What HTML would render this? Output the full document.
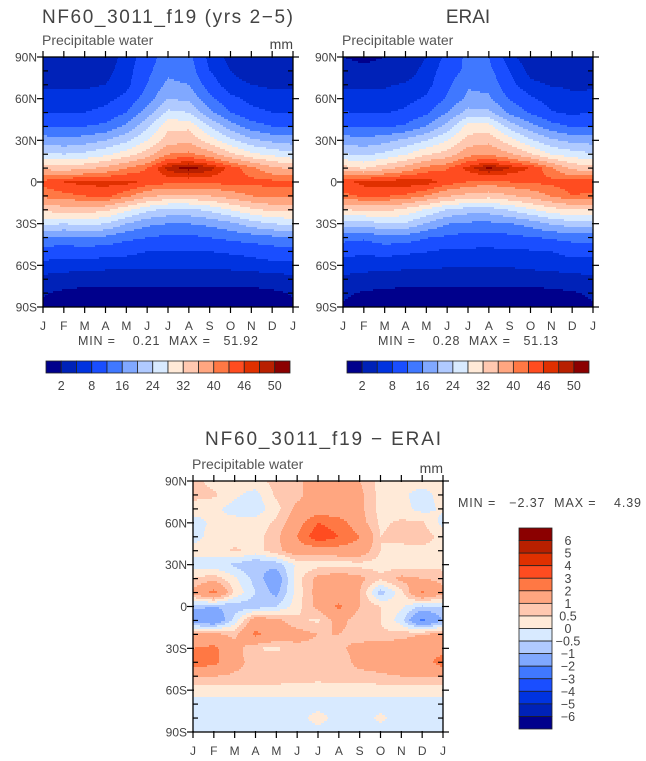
<!DOCTYPE html>
<html><head><meta charset="utf-8"><style>
html,body{margin:0;padding:0;background:#fff;}
svg{display:block;font-family:"Liberation Sans",sans-serif;}
text{fill:#444;}
.pre{white-space:pre;}
</style></head><body>
<svg id="fig" width="646" height="761" viewBox="0 0 646 761">
<text x="42" y="23" font-size="19" textLength="251">NF60_3011_f19 (yrs 2−5)</text>
<text x="468" y="23" font-size="19" text-anchor="middle">ERAI</text>
<text x="205" y="445" font-size="19" textLength="236">NF60_3011_f19 − ERAI</text>
<g id="p1"></g>
<g id="p2"></g>
<g id="p3"></g>
<g id="cb"></g>
</svg>
<script>
const months = ["J","F","M","A","M","J","J","A","S","O","N","D","J"];
const lats = [90,80,70,60,50,40,30,20,10,0,-10,-20,-30,-40,-50,-60,-70,-80,-90];
const latLabels = ["90N","60N","30N","0","30S","60S","90S"];
const latTicks = [90,60,30,0,-30,-60,-90];
const pwLevels = [2,5,8,12,16,20,24,28,32,36,40,43,46,48,50];
const pwLabels = ["2","8","16","24","32","40","46","50"];
const diffLevels = [-6,-5,-4,-3,-2,-1,-0.5,0,0.5,1,2,3,4,5,6];
const diffLabels = ["6","5","4","3","2","1","0.5","0","−0.5","−1","−2","−3","−4","−5","−6"];
const palette = ["#00008c","#0022b8","#0033e0","#1a4eff","#4078ff","#80a8ff","#b0caff","#d8eaff","#ffead8","#ffc8b0","#ffa680","#ff7844","#ff4c20","#e03000","#b82000","#8b0000"];
const modelPW = [
[3,3,3,3.5,6,10,14,13,7,4,3,3,3],
[3.5,3.5,3.5,4,6.5,11,15,14,8,5,3.5,3.5,3.5],
[4.5,4.5,4.5,5,7,12,17,16,10,6,5,4.5,4.5],
[6,6,6,7,9,14,20,19,13,9,7,6,6],
[8,8,8,9,12,18,25,24,17,12,9,8,8],
[12,12,12,13,17,23,31,31,24,18,14,12,12],
[18,17,18,20,23,28,34,35,30,25,21,19,18],
[25,24,25,27,30,34,40,41,38,33,29,27,25],
[35,34,35,37,40,43,49,51,49,45,41,37,35],
[44,46,47,47,47,45,44,44,44,44,44,44,44],
[41,42,43,44,41,37,35,35,36,38,40,41,41],
[33,34,34,33,29,25,23,23,25,28,31,33,33],
[25,24,25,24,20,17,16,16,17,19,22,24,25],
[16,15,16,15,13,12,11,11,12,13,14,15,16],
[10,9.5,10,9.5,9,8,8,8,8,8.5,9,10,10],
[7,6.5,6.5,6,6,5.5,5.5,5.5,5.5,6,6.5,7,7],
[4,3.5,3,3,3,3,3,3,3,3,3,3.5,4],
[2.2,1.5,1.2,1,1,1,1,1,1,1,1.2,1.5,2.2],
[1.5,1,1,0.8,0.5,0.5,0.5,0.5,0.5,0.5,1,1,1.5]];
const eraiPW = [
[2,1.5,2,3,5,9,13,12,6,3,2.5,2.5,2],
[3,2.5,3,3.5,6,10,13,13,8,4,3,3,3],
[4.3,4.4,4.7,5.3,6.8,11,15.5,15,9,5.8,4.8,4.7,4.3],
[6.2,6,5.8,6.8,8.5,12.5,17,16.5,11.7,8.6,6.4,5.4,6.2],
[8.2,7.8,7.8,8.7,11.2,16,21.5,21,15,11.5,8.3,7.2,8.2],
[11.8,11.8,11.4,12.7,16.2,21.5,29.7,29.5,22.5,17.5,13.7,11.7,11.8],
[18.2,17.3,18.6,21,23.8,27.9,33.7,34.8,29.7,24.7,20.8,18.7,18.2],
[24.5,23.2,24.9,27.7,31.5,33.7,38.8,39.5,36.8,32.4,27.8,26,24.5],
[33.8,31.7,34.6,37.5,41.2,42.8,47,50.5,48,45.8,40.7,34.9,33.8],
[44.8,47,47.5,47.8,47.5,44.7,42.8,41.8,43,43.5,43.9,44.6,44.8],
[42.3,43.5,43.3,42.5,39.8,36.4,34.6,33.7,35.4,37.5,40.3,43,42.3],
[31.7,32.8,33.2,30.8,27.5,23.7,22,22,24.3,27.4,30.3,32,31.7],
[23,21.8,23.7,23.5,19.6,16.2,15.2,15.1,15.8,17.5,20.5,22,23],
[13.5,12.7,14.8,14.2,12.2,11.3,10.2,10.3,10.8,11.7,12.5,13.5,13.5],
[9,8.5,9.1,8.6,8.1,7.2,7.3,7.2,7.2,7.6,8,9,9],
[6.8,6.3,6.3,5.8,5.8,5.3,5.3,5.3,5.3,5.8,6.3,6.8,6.8],
[4.2,3.7,3.2,3.2,3.2,3.2,3.2,3.2,3.2,3.2,3.2,3.7,4.2],
[2.4,1.7,1.4,1.2,1.2,1.2,1.2,1.2,1.2,1.1,1.4,1.7,2.4],
[1.7,1.2,1.2,1,0.7,0.7,0.7,0.7,0.7,0.7,1.2,1.2,1.7]];
const diffPW = [
[0.7,0.3,0.2,0.3,0.7,0.8,1.5,1.5,1,0.3,0.2,0.2,0.2],
[0.7,0.6,0.1,-0.2,0.6,0.8,1.5,1.2,1.2,0.3,0.1,-0.2,0.2],
[0.2,0.1,-0.2,-0.3,0.3,1.2,1.3,1.2,1.2,0.3,0.2,-0.2,0.1],
[-0.2,0.1,0.2,0.2,0.6,1.5,3,2.5,1.3,0.4,0.6,0.6,-0.2],
[-0.2,0.2,0.2,0.3,0.8,2,3.8,3,2,0.5,0.7,0.8,0.3],
[0.2,0.2,0.6,0.3,0.8,1.5,1.3,1.5,1.5,0.5,0.3,0.3,0.3],
[-0.2,-0.3,-0.6,-1,-0.8,0.1,0.3,0.2,0.3,0.3,0.2,0.3,0.3],
[0.5,0.8,0.1,-0.7,-1.5,0.3,1.2,1.5,1.2,0.6,1.2,1,0.8],
[1.2,2.3,0.4,-0.5,-1.2,0.2,1.3,1.2,1,-0.8,0.3,2.1,1.2],
[-0.8,-1,-0.8,-0.8,-0.5,0.3,1.2,2.2,1,0.5,0.1,-0.6,-0.5],
[-1.6,-1.8,-0.3,1.5,1.2,0.6,0.4,1.3,0.6,0.5,-0.3,-2.2,-1],
[1.3,1.2,0.8,2.2,1.5,1.3,1,1,0.7,0.6,0.7,1,1.2],
[2,2.2,1.3,0.5,0.4,0.8,0.8,0.9,1.2,1.5,1.5,2,1.5],
[2.5,2.3,1.2,0.8,0.8,0.7,0.8,0.7,1.2,1.3,1.5,1.5,2.5],
[1,1,0.9,0.9,0.9,0.8,0.7,0.8,0.8,0.9,1,1,1],
[0.2,0.2,0.2,0.2,0.2,0.2,0.2,0.2,0.2,0.2,0.2,0.2,0.2],
[-0.2,-0.2,-0.2,-0.2,-0.2,-0.2,-0.2,-0.2,-0.2,-0.2,-0.2,-0.2,-0.2],
[-0.2,-0.2,-0.2,-0.2,-0.2,-0.2,0.2,-0.2,-0.2,0.1,-0.2,-0.2,-0.2],
[-0.2,-0.2,-0.2,-0.2,-0.2,-0.2,-0.2,-0.2,-0.2,-0.2,-0.2,-0.2,-0.2]];

const NS="http://www.w3.org/2000/svg";
function mk(tag,attrs,parent){const e=document.createElementNS(NS,tag);for(const k in attrs)e.setAttribute(k,attrs[k]);parent.appendChild(e);return e;}
function levelOf(v,levels){let i=0;while(i<levels.length&&v>=levels[i])i++;return i;}
function sample(grid,fx,fy){
  const c0=Math.min(Math.floor(fx),11),r0=Math.min(Math.floor(fy),17);
  const tx=fx-c0,ty=fy-r0;
  const a=grid[r0][c0],b=grid[r0][c0+1],c=grid[r0+1][c0],d=grid[r0+1][c0+1];
  return (a*(1-tx)+b*tx)*(1-ty)+(c*(1-tx)+d*tx)*ty;
}
function drawPanel(g,grid,levels,X,Y,W,H,opts){
  const xOf=m=>X+m/12*W;
  const yOf=lat=>Y+(90-lat)/180*H;
  const field=mk('g',{'shape-rendering':'crispEdges'},g);
  
  
  const step=2;
  for(let py=0;py<H;py+=step){
    const hh=Math.min(step,H-py);
    const fy=(py+hh/2)/H*18;
    let runStart=0,runLev=-1;
    for(let px=0;px<=W;px++){
      let lev=-2;
      if(px<W){lev=levelOf(sample(grid,(px+0.5)/W*12,fy),levels);}
      if(lev!==runLev){
        if(runLev>=0){
          const r=mk('rect',{x:X+runStart,y:Y+py,width:px-runStart,height:hh,fill:palette[runLev]},field);
          
          
        }
        runStart=px;runLev=lev;
      }
    }
  }
  const frame=mk('rect',{x:X,y:Y,width:W,height:H,fill:'none',stroke:'#000','stroke-width':1.3},g);
  
  
  const ax=mk('g',{stroke:'#000','stroke-width':1.2},g);
  
  
  months.forEach((m,i)=>{
    const x=xOf(i);
    mk('line',{x1:x,y1:Y-6,x2:x,y2:Y+1},ax);
    mk('line',{x1:x,y1:Y+H-1,x2:x,y2:Y+H+6},ax);
    const t=mk('text',{x:x,y:Y+H+23,'font-size':12,'text-anchor':'middle',stroke:'none'},g);
    t.textContent=m;
    
    
  });
  for(let lat=-80;lat<=80;lat+=10){
    if(lat%30===0)continue;
    const y=yOf(lat);
    mk('line',{x1:X,y1:y,x2:X+5,y2:y},ax);
    mk('line',{x1:X+W-5,y1:y,x2:X+W,y2:y},ax);
  }
  latTicks.forEach((lat,i)=>{
    const y=yOf(lat);
    mk('line',{x1:X-6,y1:y,x2:X+1,y2:y},ax);
    mk('line',{x1:X+W-1,y1:y,x2:X+W+6,y2:y},ax);
    const t=mk('text',{x:X-6,y:y+4.5,'font-size':12,'text-anchor':'end'},g);
    t.textContent=latLabels[i];
    
    
  });
  const s=mk('text',{x:X-1,y:Y-12,'font-size':14,style:'fill:#555'},g);
  s.textContent='Precipitable water';
  
  
  if(opts.mm){
    const u=mk('text',{x:X+W,y:Y-8,'font-size':14,'text-anchor':'end'},g);
    u.textContent='mm';
    
    
  }
  if(opts.stats){
    const st=mk('text',{x:opts.stats[0],y:opts.stats[1],'font-size':12.5,'class':'pre',textLength:opts.stats[3],lengthAdjust:'spacing'},g);
    st.textContent=opts.stats[2];
    
    
  }
}
drawPanel(document.getElementById('p1'),modelPW,pwLevels,43,57,250,250,{mm:true,stats:[78,345,'MIN =    0.21  MAX =   51.92',180]});
drawPanel(document.getElementById('p2'),eraiPW,pwLevels,343,57,250,250,{mm:false,stats:[378,345,'MIN =    0.28  MAX =   51.13',180]});
drawPanel(document.getElementById('p3'),diffPW,diffLevels,193,481,250,251,{mm:true,stats:[458,507,'MIN =   −2.37  MAX =    4.39',183]});

const cb=document.getElementById('cb');
function hbar(x0,y0,w,h){
  const bw=w/16;
  for(let i=0;i<16;i++){
    const r=mk('rect',{x:x0+i*bw,y:y0,width:bw,height:h,fill:palette[i],stroke:'#222','stroke-width':0.8},cb);
    
    
  }
  pwLabels.forEach((l,j)=>{
    const t=mk('text',{x:x0+(2*j+1)*bw,y:y0+h+17,'font-size':12.5,'text-anchor':'middle'},cb);
    t.textContent=l;
    
    
  });
}
hbar(46,361,244,12);
hbar(347,361,242,12);
(function(){
  const x0=519,y0=528,w=33,h=201,bh=h/16;
  for(let i=0;i<16;i++){
    const r=mk('rect',{x:x0,y:y0+i*bh,width:w,height:bh,fill:palette[15-i],stroke:'#222','stroke-width':0.8},cb);
    
    
  }
  diffLabels.forEach((l,j)=>{
    const t=mk('text',{x:568,y:y0+(j+1)*bh+4.5,'font-size':12.5,'text-anchor':'middle'},cb);
    t.textContent=l;
    
    
  });
})();
</script>
</body></html>
